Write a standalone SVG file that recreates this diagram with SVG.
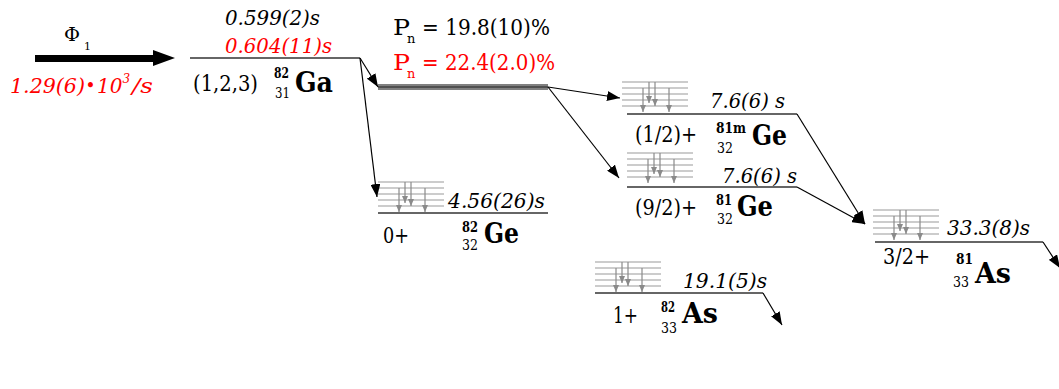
<svg xmlns="http://www.w3.org/2000/svg" width="1059" height="389" viewBox="0 0 1059 389" font-family="DejaVu Serif, serif">
<style>
text{font-family:'DejaVu Serif',serif;}
.hl{font-size:20px;font-style:italic;fill:#000;}
.red{fill:#ff0000;}
.sp{font-size:22px;fill:#000;}
.ma{font-size:15px;font-weight:bold;}
.z{font-size:15px;}
.el{font-size:27px;font-weight:bold;}
.pn{font-size:23px;}
.sub{font-size:13px;}
.lvl{stroke:#333;stroke-width:1.5;fill:none;}
.con{stroke:#000;stroke-width:1.2;fill:none;marker-end:url(#ah);}
.gl{stroke:#9a9a9a;stroke-width:1.2;}
.ga{stroke:#8a8a8a;stroke-width:1.2;marker-end:url(#gh);}
</style>
<defs>
<marker id="ah" markerUnits="userSpaceOnUse" markerWidth="14" markerHeight="10" refX="13" refY="5" orient="auto">
<path d="M0,0 L13,5 L0,10 Z" fill="#000"/>
</marker>
<marker id="gh" markerUnits="userSpaceOnUse" markerWidth="8" markerHeight="8" refX="7" refY="3" orient="auto">
<path d="M0,0 L7,3 L0,6 Z" fill="#8a8a8a"/>
</marker>
<g id="gbox">
<line class="gl" x1="0" y1="0" x2="66" y2="0"/>
<line class="gl" x1="0" y1="6" x2="66" y2="6"/>
<line class="gl" x1="0" y1="12" x2="66" y2="12"/>
<line class="gl" x1="0" y1="18" x2="66" y2="18"/>
<line class="gl" x1="0" y1="24" x2="66" y2="24"/>
<line class="ga" x1="21" y1="6" x2="21" y2="30"/>
<line class="ga" x1="27" y1="0" x2="27" y2="21"/>
<line class="ga" x1="33" y1="0" x2="33" y2="24"/>
<line class="ga" x1="47" y1="6" x2="47" y2="30"/>
</g>
</defs>

<g id="beam">
<polygon points="35,55 153,55 153,50 175,58 153,66 153,62 35,62" fill="#000"/>
<text x="64" y="41" font-size="19" textLength="16" lengthAdjust="spacingAndGlyphs">Φ</text>
<text x="84" y="50" font-size="11">1</text>
<text class="hl red" x="10" y="93" textLength="75" lengthAdjust="spacingAndGlyphs">1.29(6)</text>
<text class="red" x="86" y="90" font-size="14" font-weight="bold">•</text>
<text class="hl red" x="97" y="93" font-size="18">10<tspan dy="-10" font-size="12">3</tspan></text>
<text class="hl red" x="132" y="93" textLength="21" lengthAdjust="spacingAndGlyphs">/s</text>
</g>

<g id="Ga82">
<line class="lvl" x1="190" y1="58" x2="360" y2="58"/>
<text class="hl" x="225" y="25" textLength="95" lengthAdjust="spacingAndGlyphs">0.599(2)s</text>
<text class="hl red" x="225" y="53" textLength="107" lengthAdjust="spacingAndGlyphs">0.604(11)s</text>
<text class="sp" x="193" y="91" textLength="65" lengthAdjust="spacingAndGlyphs">(1,2,3)</text>
<text class="ma" x="274" y="78" textLength="15" lengthAdjust="spacingAndGlyphs">82</text>
<text class="z" x="275" y="98" textLength="15" lengthAdjust="spacingAndGlyphs">31</text>
<text class="el" x="295" y="92" textLength="38" lengthAdjust="spacingAndGlyphs">Ga</text>
</g>

<g id="neutron">
<rect x="378" y="84" width="170" height="6" fill="#808080"/>
<line x1="378" y1="87" x2="548" y2="87" stroke="#404040" stroke-width="1.5"/>
<text class="pn" x="393" y="35" textLength="17" lengthAdjust="spacingAndGlyphs">P</text>
<text class="sub" x="407" y="43">n</text>
<text class="pn" x="422" y="35" textLength="128" lengthAdjust="spacingAndGlyphs">= 19.8(10)%</text>
<text class="pn red" x="393" y="70" textLength="17" lengthAdjust="spacingAndGlyphs">P</text>
<text class="sub red" x="407" y="78">n</text>
<text class="pn red" x="422" y="70" textLength="133" lengthAdjust="spacingAndGlyphs">= 22.4(2.0)%</text>
</g>

<g id="Ge82">
<use href="#gbox" x="378" y="182"/>
<line class="lvl" x1="378" y1="213" x2="548" y2="213"/>
<text class="hl" x="448" y="208" textLength="97" lengthAdjust="spacingAndGlyphs">4.56(26)s</text>
<text class="sp" x="383" y="243" textLength="26" lengthAdjust="spacingAndGlyphs">0+</text>
<text class="ma" x="462" y="232" textLength="16" lengthAdjust="spacingAndGlyphs">82</text>
<text class="z" x="462" y="250" textLength="16" lengthAdjust="spacingAndGlyphs">32</text>
<text class="el" x="484" y="243" textLength="35" lengthAdjust="spacingAndGlyphs">Ge</text>
</g>

<g id="Ge81m">
<use href="#gbox" x="622" y="82"/>
<line class="lvl" x1="627" y1="114" x2="797" y2="114"/>
<text class="hl" x="710" y="108" textLength="75" lengthAdjust="spacingAndGlyphs">7.6(6) s</text>
<text class="sp" x="635" y="142" textLength="62" lengthAdjust="spacingAndGlyphs">(1/2)+</text>
<text class="ma" x="716" y="133" textLength="30" lengthAdjust="spacingAndGlyphs">81m</text>
<text class="z" x="717" y="153" textLength="16" lengthAdjust="spacingAndGlyphs">32</text>
<text class="el" x="752" y="145" textLength="35" lengthAdjust="spacingAndGlyphs">Ge</text>
</g>

<g id="Ge81">
<use href="#gbox" x="627" y="153"/>
<line class="lvl" x1="627" y1="187" x2="797" y2="187"/>
<text class="hl" x="722" y="183" textLength="75" lengthAdjust="spacingAndGlyphs">7.6(6) s</text>
<text class="sp" x="635" y="215" textLength="62" lengthAdjust="spacingAndGlyphs">(9/2)+</text>
<text class="ma" x="716" y="205" textLength="16" lengthAdjust="spacingAndGlyphs">81</text>
<text class="z" x="717" y="224" textLength="16" lengthAdjust="spacingAndGlyphs">32</text>
<text class="el" x="737" y="216" textLength="36" lengthAdjust="spacingAndGlyphs">Ge</text>
</g>

<g id="As81">
<use href="#gbox" x="873" y="210"/>
<line class="lvl" x1="875" y1="242" x2="1043" y2="242"/>
<text class="hl" x="947" y="235" textLength="83" lengthAdjust="spacingAndGlyphs">33.3(8)s</text>
<text class="sp" x="883" y="264" textLength="47" lengthAdjust="spacingAndGlyphs">3/2+</text>
<text class="ma" x="956" y="264" textLength="17" lengthAdjust="spacingAndGlyphs">81</text>
<text class="z" x="953" y="287" textLength="16" lengthAdjust="spacingAndGlyphs">33</text>
<text class="el" x="975" y="283" textLength="36" lengthAdjust="spacingAndGlyphs">As</text>
</g>

<g id="As82">
<use href="#gbox" x="595" y="262"/>
<line class="lvl" x1="595" y1="293" x2="763" y2="293"/>
<text class="hl" x="683" y="288" textLength="84" lengthAdjust="spacingAndGlyphs">19.1(5)s</text>
<text class="sp" x="613" y="323" textLength="25" lengthAdjust="spacingAndGlyphs">1+</text>
<text class="ma" x="661" y="312" textLength="14" lengthAdjust="spacingAndGlyphs">82</text>
<text class="z" x="661" y="333" textLength="16" lengthAdjust="spacingAndGlyphs">33</text>
<text class="el" x="682" y="323" textLength="36" lengthAdjust="spacingAndGlyphs">As</text>
</g>

<g id="connectors">
<line class="con" x1="360" y1="58" x2="378" y2="87"/>
<line class="con" x1="360" y1="58" x2="377" y2="197"/>
<line class="con" x1="548" y1="87" x2="620" y2="98"/>
<line class="con" x1="548" y1="87" x2="619" y2="178"/>
<line class="con" x1="797" y1="114" x2="865" y2="224"/>
<line class="con" x1="797" y1="187" x2="865" y2="224"/>
<line class="con" x1="1043" y1="242" x2="1060" y2="268"/>
<line class="con" x1="763" y1="293" x2="782" y2="325"/>
</g>
</svg>
